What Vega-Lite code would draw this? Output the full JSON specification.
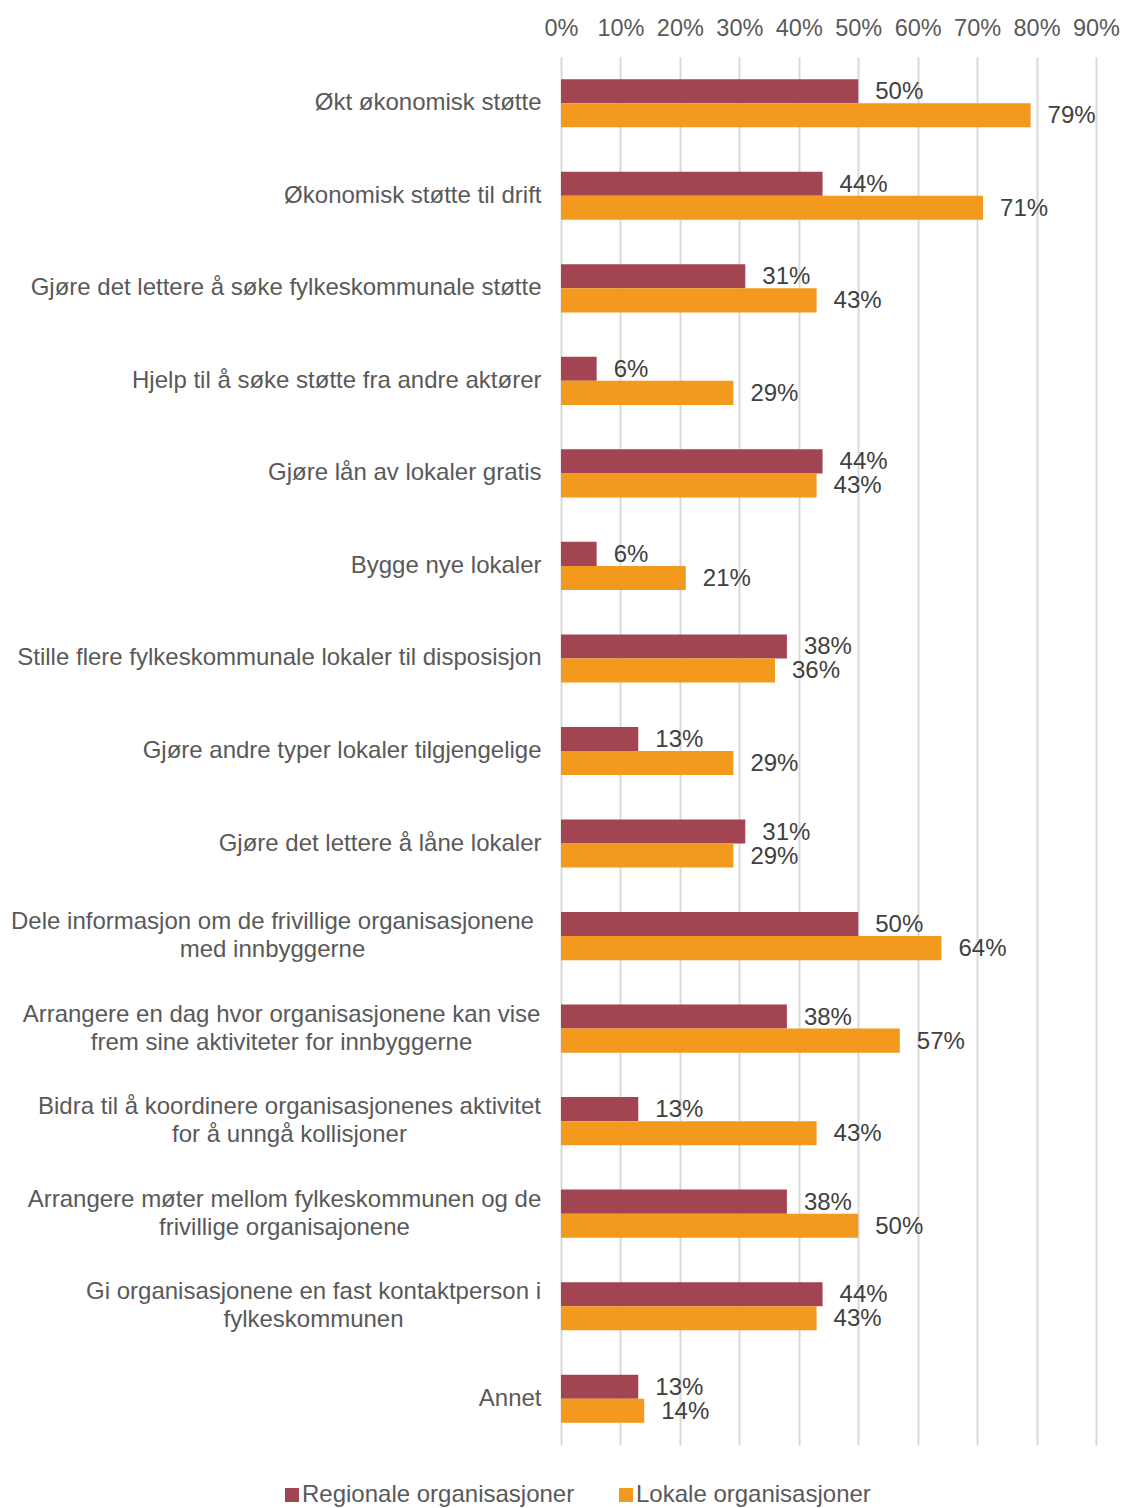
{
  "$schema": "https://vega.github.io/schema/vega-lite/v6.json",
  "width": 535,
  "height": 1388,
  "autosize": {"type": "none"},
  "padding": {"left": 561, "top": 57, "right": 26, "bottom": 63},
  "background": "white",
  "config": {"view": {"stroke": null}, "font": "Liberation Sans"},
  "data": {"values": [
    {"kategori": "Økt økonomisk støtte", "gruppe": "Regionale organisasjoner", "andel": 0.50},
    {"kategori": "Økt økonomisk støtte", "gruppe": "Lokale organisasjoner", "andel": 0.79},
    {"kategori": "Økonomisk støtte til drift", "gruppe": "Regionale organisasjoner", "andel": 0.44},
    {"kategori": "Økonomisk støtte til drift", "gruppe": "Lokale organisasjoner", "andel": 0.71},
    {"kategori": "Gjøre det lettere å søke fylkeskommunale støtte", "gruppe": "Regionale organisasjoner", "andel": 0.31},
    {"kategori": "Gjøre det lettere å søke fylkeskommunale støtte", "gruppe": "Lokale organisasjoner", "andel": 0.43},
    {"kategori": "Hjelp til å søke støtte fra andre aktører", "gruppe": "Regionale organisasjoner", "andel": 0.06},
    {"kategori": "Hjelp til å søke støtte fra andre aktører", "gruppe": "Lokale organisasjoner", "andel": 0.29},
    {"kategori": "Gjøre lån av lokaler gratis", "gruppe": "Regionale organisasjoner", "andel": 0.44},
    {"kategori": "Gjøre lån av lokaler gratis", "gruppe": "Lokale organisasjoner", "andel": 0.43},
    {"kategori": "Bygge nye lokaler", "gruppe": "Regionale organisasjoner", "andel": 0.06},
    {"kategori": "Bygge nye lokaler", "gruppe": "Lokale organisasjoner", "andel": 0.21},
    {"kategori": "Stille flere fylkeskommunale lokaler til disposisjon", "gruppe": "Regionale organisasjoner", "andel": 0.38},
    {"kategori": "Stille flere fylkeskommunale lokaler til disposisjon", "gruppe": "Lokale organisasjoner", "andel": 0.36},
    {"kategori": "Gjøre andre typer lokaler tilgjengelige", "gruppe": "Regionale organisasjoner", "andel": 0.13},
    {"kategori": "Gjøre andre typer lokaler tilgjengelige", "gruppe": "Lokale organisasjoner", "andel": 0.29},
    {"kategori": "Gjøre det lettere å låne lokaler", "gruppe": "Regionale organisasjoner", "andel": 0.31},
    {"kategori": "Gjøre det lettere å låne lokaler", "gruppe": "Lokale organisasjoner", "andel": 0.29},
    {"kategori": "Dele informasjon om de frivillige organisasjonene\nmed innbyggerne", "gruppe": "Regionale organisasjoner", "andel": 0.50},
    {"kategori": "Dele informasjon om de frivillige organisasjonene\nmed innbyggerne", "gruppe": "Lokale organisasjoner", "andel": 0.64},
    {"kategori": "Arrangere en dag hvor organisasjonene kan vise\nfrem sine aktiviteter for innbyggerne", "gruppe": "Regionale organisasjoner", "andel": 0.38},
    {"kategori": "Arrangere en dag hvor organisasjonene kan vise\nfrem sine aktiviteter for innbyggerne", "gruppe": "Lokale organisasjoner", "andel": 0.57},
    {"kategori": "Bidra til å koordinere organisasjonenes aktivitet\nfor å unngå kollisjoner", "gruppe": "Regionale organisasjoner", "andel": 0.13},
    {"kategori": "Bidra til å koordinere organisasjonenes aktivitet\nfor å unngå kollisjoner", "gruppe": "Lokale organisasjoner", "andel": 0.43},
    {"kategori": "Arrangere møter mellom fylkeskommunen og de\nfrivillige organisajonene", "gruppe": "Regionale organisasjoner", "andel": 0.38},
    {"kategori": "Arrangere møter mellom fylkeskommunen og de\nfrivillige organisajonene", "gruppe": "Lokale organisasjoner", "andel": 0.50},
    {"kategori": "Gi organisasjonene en fast kontaktperson i\nfylkeskommunen", "gruppe": "Regionale organisasjoner", "andel": 0.44},
    {"kategori": "Gi organisasjonene en fast kontaktperson i\nfylkeskommunen", "gruppe": "Lokale organisasjoner", "andel": 0.43},
    {"kategori": "Annet", "gruppe": "Regionale organisasjoner", "andel": 0.13},
    {"kategori": "Annet", "gruppe": "Lokale organisasjoner", "andel": 0.14}
  ]},
  "encoding": {
    "y": {
      "field": "kategori", "type": "nominal", "sort": null,
      "scale": {"paddingInner": 0.48, "paddingOuter": 0.24},
      "axis": {
        "title": null, "domain": false, "ticks": false, "tickSize": 0, "grid": false,
        "labelFontSize": 24, "labelColor": "#595959", "labelLimit": 1000,
        "labelLineHeight": 28, "labelBaseline": "middle",
        "labelExpr": "split(datum.label, '\\n')",
        "labelAlign": {"condition": {"test": "indexof(datum.value, '\\n') >= 0", "value": "center"}, "value": "right"},
        "labelOffset": {"condition": {"test": "indexof(datum.value, '\\n') >= 0", "value": -14}, "value": 0},
        "labelPadding": {"condition": [
          {"test": "indexof(datum.value, 'Dele') == 0", "value": 289},
          {"test": "indexof(datum.value, 'Arrangere en') == 0", "value": 280},
          {"test": "indexof(datum.value, 'Bidra') == 0", "value": 272},
          {"test": "indexof(datum.value, 'Arrangere m') == 0", "value": 277},
          {"test": "indexof(datum.value, 'Gi org') == 0", "value": 248}
        ], "value": 20}
      }
    },
    "yOffset": {
      "field": "gruppe", "type": "nominal",
      "sort": ["Regionale organisasjoner", "Lokale organisasjoner"],
      "scale": {"paddingInner": 0, "paddingOuter": 0}
    },
    "x": {
      "field": "andel", "type": "quantitative",
      "scale": {"domain": [0, 0.9], "nice": false, "zero": true},
      "axis": {
        "orient": "top", "title": null, "format": ".0%",
        "values": [0, 0.1, 0.2, 0.3, 0.4, 0.5, 0.6, 0.7, 0.8, 0.9],
        "domain": false, "ticks": false, "tickSize": 0,
        "grid": true, "gridColor": "#D9D9D9", "gridWidth": 2,
        "labelFontSize": 23.5, "labelColor": "#595959", "labelPadding": 17,
        "labelFlush": false, "labelOverlap": false
      }
    }
  },
  "layer": [
    {
      "mark": {"type": "bar"},
      "encoding": {
        "color": {
          "field": "gruppe", "type": "nominal",
          "scale": {"domain": ["Regionale organisasjoner", "Lokale organisasjoner"], "range": ["#A24452", "#F39A1E"]},
          "legend": {
            "title": null, "orient": "none", "direction": "horizontal",
            "legendX": -281, "legendY": 1426,
            "symbolType": "square", "symbolSize": 196, "symbolStrokeWidth": 0,
            "labelFontSize": 24, "labelColor": "#595959", "labelOffset": -2,
            "columnPadding": 39, "labelLimit": 1000
          }
        }
      }
    },
    {
      "mark": {"type": "text", "align": "left", "baseline": "middle", "dx": 17, "dy": 1, "fontSize": 24, "color": "#404040"},
      "encoding": {
        "text": {"field": "andel", "type": "quantitative", "format": ".0%"}
      }
    }
  ]
}
